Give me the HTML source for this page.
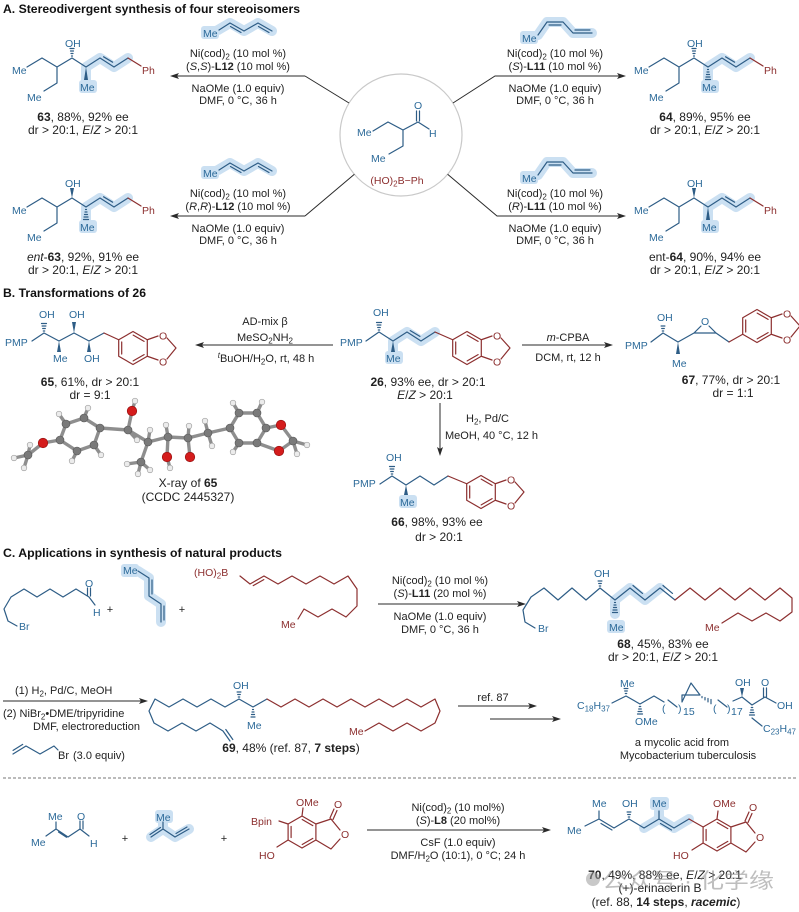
<!DOCTYPE html>
<html><head><meta charset="utf-8"><style>
body{margin:0;background:#fff}
svg{display:block}
text{font-family:"Liberation Sans",Arial,sans-serif;}
.t{font-size:11px;fill:#222}
.l{font-size:12px;fill:#222}
.a{font-size:10.5px;fill:#2c6a99}
.ar{font-size:10.5px;fill:#8c2f2f}
.h{font-size:12px;font-weight:bold;fill:#111}
.b{stroke:#2e5d86;stroke-width:1.2;fill:none;stroke-linecap:round;stroke-linejoin:round}
.r{stroke:#8c2f2f;stroke-width:1.2;fill:none;stroke-linecap:round;stroke-linejoin:round}
.k{stroke:#2a2a2a;stroke-width:1;fill:none}
.hl{stroke:#cbe0f2;stroke-width:10;fill:none;stroke-linecap:round;stroke-linejoin:round}
.fb{fill:#2e5d86}
.fk{fill:#2a2a2a}
.st{stroke:#8e8e8e;stroke-width:3.4;stroke-linecap:round;fill:none}
.cb{fill:#7a7a7a;stroke:#555;stroke-width:0.6}
.ob{fill:#d41c1c;stroke:#901010;stroke-width:0.6}
.hb{fill:#ececec;stroke:#9a9a9a;stroke-width:0.6}
</style></head><body>
<svg width="799" height="912" viewBox="0 0 799 912" xmlns="http://www.w3.org/2000/svg">
<rect width="799" height="912" fill="#fff"/>

<!-- ===== SECTION A ===== -->
<text class="h" x="3" y="13" textLength="297" lengthAdjust="spacingAndGlyphs">A. Stereodivergent synthesis of four stereoisomers</text>

<circle cx="401" cy="135" r="61" fill="none" stroke="#c9c9c9" stroke-width="1.2"/>
<text class="a" x="357" y="136">Me</text>
<path class="b" d="M373,131 L388,122 L403,130 L418,122 L429,129 M403,130 L403,146 L389,154 M416.5,121 L416.5,111 M419.5,121 L419.5,111"/>
<text class="a" x="414" y="109">O</text>
<text class="a" x="429" y="137">H</text>
<text class="a" x="371" y="162">Me</text>
<text class="ar" x="397" y="184" text-anchor="middle">(HO)<tspan dy="2.5" font-size="8">2</tspan><tspan dy="-2.5">B−Ph</tspan></text>

<!-- top-left reagents -->
<path class="hl" d="M210,33 L218,30 L230,23 L244,31 L258,23 L272,31"/>
<rect x="201" y="26" width="18" height="13" rx="3" fill="#cbe0f2"/>
<text class="a" x="203" y="37">Me</text>
<path class="b" d="M219,30 L230,23 L244,31 L258,23 L272,31 M230.5,26.5 L241,32.5 M258.5,26.5 L269,32.5"/>
<text class="t" x="238" y="57" text-anchor="middle">Ni(cod)<tspan dy="2.5" font-size="8">2</tspan><tspan dy="-2.5"> (10 mol %)</tspan></text>
<text class="t" x="238" y="70" text-anchor="middle">(<tspan font-style="italic">S</tspan>,<tspan font-style="italic">S</tspan>)-<tspan font-weight="bold">L12</tspan> (10 mol %)</text>
<path class="k" d="M305,76 L176,76 M305,76 L349,103"/>
<polygon class="fk" points="170,76 179,73 177,76 179,79"/>
<text class="t" x="238" y="92" text-anchor="middle">NaOMe (1.0 equiv)</text>
<text class="t" x="238" y="104" text-anchor="middle">DMF, 0 °C, 36 h</text>

<!-- top-right reagents -->
<path class="hl" d="M530,38 L538,35 L547,22 L563,22 L573,33 L592,33"/>
<rect x="520" y="31" width="18" height="13" rx="3" fill="#cbe0f2"/>
<text class="a" x="522" y="42">Me</text>
<path class="b" d="M538,35 L547,22 L563,22 L573,33 L592,33 M549,25 L561,25 M575,30 L590,30"/>
<text class="t" x="555" y="57" text-anchor="middle">Ni(cod)<tspan dy="2.5" font-size="8">2</tspan><tspan dy="-2.5"> (10 mol %)</tspan></text>
<text class="t" x="555" y="70" text-anchor="middle">(<tspan font-style="italic">S</tspan>)-<tspan font-weight="bold">L11</tspan> (10 mol %)</text>
<path class="k" d="M453,103 L495,76 L620,76"/>
<polygon class="fk" points="626,76 617,73 619,76 617,79"/>
<text class="t" x="555" y="92" text-anchor="middle">NaOMe (1.0 equiv)</text>
<text class="t" x="555" y="104" text-anchor="middle">DMF, 0 °C, 36 h</text>

<!-- bottom-left reagents -->
<path class="hl" d="M210,173 L218,170 L230,163 L244,171 L258,163 L272,171"/>
<rect x="201" y="166" width="18" height="13" rx="3" fill="#cbe0f2"/>
<text class="a" x="203" y="177">Me</text>
<path class="b" d="M219,170 L230,163 L244,171 L258,163 L272,171 M230.5,166.5 L241,172.5 M258.5,166.5 L269,172.5"/>
<text class="t" x="238" y="197" text-anchor="middle">Ni(cod)<tspan dy="2.5" font-size="8">2</tspan><tspan dy="-2.5"> (10 mol %)</tspan></text>
<text class="t" x="238" y="210" text-anchor="middle">(<tspan font-style="italic">R</tspan>,<tspan font-style="italic">R</tspan>)-<tspan font-weight="bold">L12</tspan> (10 mol %)</text>
<path class="k" d="M305,216 L176,216 M305,216 L354.4,174.3"/>
<polygon class="fk" points="170,216 179,213 177,216 179,219"/>
<text class="t" x="238" y="232" text-anchor="middle">NaOMe (1.0 equiv)</text>
<text class="t" x="238" y="244" text-anchor="middle">DMF, 0 °C, 36 h</text>

<!-- bottom-right reagents -->
<path class="hl" d="M530,178 L538,175 L547,162 L563,162 L573,173 L592,173"/>
<rect x="520" y="171" width="18" height="13" rx="3" fill="#cbe0f2"/>
<text class="a" x="522" y="182">Me</text>
<path class="b" d="M538,175 L547,162 L563,162 L573,173 L592,173 M549,165 L561,165 M575,170 L590,170"/>
<text class="t" x="555" y="197" text-anchor="middle">Ni(cod)<tspan dy="2.5" font-size="8">2</tspan><tspan dy="-2.5"> (10 mol %)</tspan></text>
<text class="t" x="555" y="210" text-anchor="middle">(<tspan font-style="italic">R</tspan>)-<tspan font-weight="bold">L11</tspan> (10 mol %)</text>
<path class="k" d="M447.6,174.3 L497,216 L620,216"/>
<polygon class="fk" points="626,216 617,213 619,216 617,219"/>
<text class="t" x="555" y="232" text-anchor="middle">NaOMe (1.0 equiv)</text>
<text class="t" x="555" y="244" text-anchor="middle">DMF, 0 °C, 36 h</text>

<!-- product 63 -->
<g>
<path class="hl" d="M86,86 L86,67 L100,58 L114,67 L128,58"/>
<rect x="79" y="80" width="18" height="13" rx="3" fill="#cbe0f2"/>
<path class="b" d="M27,67 L42,58 L57,67 L72,58 L86,67 L100,58 L114,67 L128,58 M57,67 L57,83 L44,91 M103.6,56.8 L112.6,62.2"/>
<path class="r" d="M128,58 L141,66"/>
<path class="b" d="M71.5,56 h1 M71,53.5 h2 M70.5,51 h3 M70,48.5 h4"/>
<polygon class="fb" points="86,67 84,80 88,80"/>
<text class="a" x="12" y="74">Me</text>
<text class="a" x="27" y="101">Me</text>
<text class="a" x="65" y="47">OH</text>
<text class="a" x="80" y="91">Me</text>
<text class="ar" x="142" y="74">Ph</text>
<text class="l" x="83" y="121" text-anchor="middle"><tspan font-weight="bold">63</tspan>, 88%, 92% ee</text>
<text class="l" x="83" y="134" text-anchor="middle">dr &gt; 20:1, <tspan font-style="italic">E</tspan>/<tspan font-style="italic">Z</tspan> &gt; 20:1</text>
</g>
<!-- product 64 -->
<g transform="translate(622,0)">
<path class="hl" d="M86,86 L86,67 L100,58 L114,67 L128,58"/>
<rect x="79" y="80" width="18" height="13" rx="3" fill="#cbe0f2"/>
<path class="b" d="M27,67 L42,58 L57,67 L72,58 L86,67 L100,58 L114,67 L128,58 M57,67 L57,83 L44,91 M103.6,56.8 L112.6,62.2"/>
<path class="r" d="M128,58 L141,66"/>
<path class="b" d="M71.5,56 h1 M71,53.5 h2 M70.5,51 h3 M70,48.5 h4"/>
<path class="b" d="M85.5,69.5 h1 M85,72 h2 M84.5,74.5 h3 M84,77 h4 M83.5,79.5 h5"/>
<text class="a" x="12" y="74">Me</text>
<text class="a" x="27" y="101">Me</text>
<text class="a" x="65" y="47">OH</text>
<text class="a" x="80" y="91">Me</text>
<text class="ar" x="142" y="74">Ph</text>
<text class="l" x="83" y="121" text-anchor="middle"><tspan font-weight="bold">64</tspan>, 89%, 95% ee</text>
<text class="l" x="83" y="134" text-anchor="middle">dr &gt; 20:1, <tspan font-style="italic">E</tspan>/<tspan font-style="italic">Z</tspan> &gt; 20:1</text>
</g>
<!-- ent-63 -->
<g transform="translate(0,140)">
<path class="hl" d="M86,86 L86,67 L100,58 L114,67 L128,58"/>
<rect x="79" y="80" width="18" height="13" rx="3" fill="#cbe0f2"/>
<path class="b" d="M27,67 L42,58 L57,67 L72,58 L86,67 L100,58 L114,67 L128,58 M57,67 L57,83 L44,91 M103.6,56.8 L112.6,62.2"/>
<path class="r" d="M128,58 L141,66"/>
<polygon class="fb" points="72,58 70,48 74,48"/>
<path class="b" d="M85.5,69.5 h1 M85,72 h2 M84.5,74.5 h3 M84,77 h4 M83.5,79.5 h5"/>
<text class="a" x="12" y="74">Me</text>
<text class="a" x="27" y="101">Me</text>
<text class="a" x="65" y="47">OH</text>
<text class="a" x="80" y="91">Me</text>
<text class="ar" x="142" y="74">Ph</text>
<text class="l" x="83" y="121" text-anchor="middle"><tspan font-style="italic">ent</tspan>-<tspan font-weight="bold">63</tspan>, 92%, 91% ee</text>
<text class="l" x="83" y="134" text-anchor="middle">dr &gt; 20:1, <tspan font-style="italic">E</tspan>/<tspan font-style="italic">Z</tspan> &gt; 20:1</text>
</g>
<!-- ent-64 -->
<g transform="translate(622,140)">
<path class="hl" d="M86,86 L86,67 L100,58 L114,67 L128,58"/>
<rect x="79" y="80" width="18" height="13" rx="3" fill="#cbe0f2"/>
<path class="b" d="M27,67 L42,58 L57,67 L72,58 L86,67 L100,58 L114,67 L128,58 M57,67 L57,83 L44,91 M103.6,56.8 L112.6,62.2"/>
<path class="r" d="M128,58 L141,66"/>
<polygon class="fb" points="72,58 70,48 74,48"/>
<polygon class="fb" points="86,67 84,80 88,80"/>
<text class="a" x="12" y="74">Me</text>
<text class="a" x="27" y="101">Me</text>
<text class="a" x="65" y="47">OH</text>
<text class="a" x="80" y="91">Me</text>
<text class="ar" x="142" y="74">Ph</text>
<text class="l" x="83" y="121" text-anchor="middle">ent-<tspan font-weight="bold">64</tspan>, 90%, 94% ee</text>
<text class="l" x="83" y="134" text-anchor="middle">dr &gt; 20:1, <tspan font-style="italic">E</tspan>/<tspan font-style="italic">Z</tspan> &gt; 20:1</text>
</g>

<!-- ===== SECTION B ===== -->
<text class="h" x="3" y="297" textLength="143" lengthAdjust="spacingAndGlyphs">B. Transformations of 26</text>

<!-- 65 -->
<text class="a" x="5" y="346">PMP</text>
<path class="b" d="M32,341 L44,333 L59,341 L74,333 L89,341 L104,333"/>
<path class="r" d="M104,333 L118.7,339.75"/>
<path class="b" d="M43.3,331 h1.4 M42.7,328.5 h2.6 M42.1,326 h3.8 M41.5,323.5 h5"/>
<text class="a" x="39" y="318">OH</text>
<polygon class="fb" points="59,341 57,352 61,352"/>
<text class="a" x="53" y="362">Me</text>
<polygon class="fb" points="74,333 72,322 76,322"/>
<text class="a" x="69" y="318">OH</text>
<polygon class="fb" points="89,341 87,352 91,352"/>
<text class="a" x="84" y="362">OH</text>
<g transform="translate(133,348)">
<path class="r" d="M0,-16.5 L14.3,-8.25 L14.3,8.25 L0,16.5 L-14.3,8.25 L-14.3,-8.25 Z M-11.3,-6 L-11.3,6 M0.2,-12.9 L11.1,-6.65 M11.1,6.65 L0.2,12.9 M14.3,-8.25 L25,-12 M14.3,8.25 L25,12 M34,-10 L43,0 L34,11"/>
<text class="ar" x="26" y="-8.5">O</text><text class="ar" x="26" y="17.5">O</text>
</g>
<text class="l" x="90" y="386" text-anchor="middle"><tspan font-weight="bold">65</tspan>, 61%, dr &gt; 20:1</text>
<text class="l" x="90" y="399" text-anchor="middle">dr = 9:1</text>

<text class="t" x="265" y="325" text-anchor="middle">AD-mix β</text>
<text class="t" x="265" y="341" text-anchor="middle">MeSO<tspan dy="2.5" font-size="8">2</tspan><tspan dy="-2.5">NH</tspan><tspan dy="2.5" font-size="8">2</tspan></text>
<path class="k" d="M333,345 L201,345"/>
<polygon class="fk" points="195,345 204,342 202,345 204,348"/>
<text class="t" x="266" y="362" text-anchor="middle"><tspan font-style="italic" font-size="8" dy="-4">t</tspan><tspan dy="4">BuOH/H</tspan><tspan dy="2.5" font-size="8">2</tspan><tspan dy="-2.5">O, rt, 48 h</tspan></text>

<!-- 26 -->
<text class="a" x="340" y="346">PMP</text>
<path class="hl" d="M393,357 L393,341 L407,332 L421,341 L435,332"/>
<rect x="385" y="351" width="18" height="13" rx="3" fill="#cbe0f2"/>
<path class="b" d="M366,341 L379,332 L393,341 L407,332 L421,341 L435,332 M410.3,330.6 L419.9,336.4"/>
<path class="r" d="M435,332 L452.7,339.75"/>
<path class="b" d="M378.3,330 h1.4 M377.7,327.5 h2.6 M377.1,325 h3.8 M376.5,322.5 h5"/>
<text class="a" x="373" y="316">OH</text>
<polygon class="fb" points="393,341 391,352 395,352"/>
<text class="a" x="386" y="362">Me</text>
<g transform="translate(467,348)">
<path class="r" d="M0,-16.5 L14.3,-8.25 L14.3,8.25 L0,16.5 L-14.3,8.25 L-14.3,-8.25 Z M-11.3,-6 L-11.3,6 M0.2,-12.9 L11.1,-6.65 M11.1,6.65 L0.2,12.9 M14.3,-8.25 L25,-12 M14.3,8.25 L25,12 M34,-10 L43,0 L34,11"/>
<text class="ar" x="26" y="-8.5">O</text><text class="ar" x="26" y="17.5">O</text>
</g>
<text class="l" x="428" y="386" text-anchor="middle"><tspan font-weight="bold">26</tspan>, 93% ee, dr &gt; 20:1</text>
<text class="l" x="425" y="399" text-anchor="middle"><tspan font-style="italic">E</tspan>/<tspan font-style="italic">Z</tspan> &gt; 20:1</text>

<text class="t" x="568" y="341" text-anchor="middle"><tspan font-style="italic">m</tspan>-CPBA</text>
<path class="k" d="M522,345 L607,345"/>
<polygon class="fk" points="613,345 604,342 606,345 604,348"/>
<text class="t" x="568" y="361" text-anchor="middle">DCM, rt, 12 h</text>

<!-- 67 -->
<text class="a" x="625" y="349">PMP</text>
<path class="b" d="M651,342 L663,333 L678,342 L694,333 L716,333 L729,342 M694,333 L701,326 M716,333 L709,326"/>
<path class="r" d="M729,342 L742.7,334.25"/>
<path class="b" d="M662.3,331 h1.4 M661.7,328.5 h2.6 M661.1,326 h3.8"/>
<text class="a" x="657" y="321">OH</text>
<text class="a" x="701" y="325">O</text>
<polygon class="fb" points="678,342 676,354 680,354"/>
<text class="a" x="672" y="367">Me</text>
<g transform="translate(757,326)">
<path class="r" d="M0,-16.5 L14.3,-8.25 L14.3,8.25 L0,16.5 L-14.3,8.25 L-14.3,-8.25 Z M-11.3,-6 L-11.3,6 M0.2,-12.9 L11.1,-6.65 M11.1,6.65 L0.2,12.9 M14.3,-8.25 L25,-12 M14.3,8.25 L25,12 M34,-10 L43,0 L34,11"/>
<text class="ar" x="26" y="-8.5">O</text><text class="ar" x="26" y="17.5">O</text>
</g>
<text class="l" x="731" y="384" text-anchor="middle"><tspan font-weight="bold">67</tspan>, 77%, dr &gt; 20:1</text>
<text class="l" x="733" y="397" text-anchor="middle">dr = 1:1</text>

<path class="k" d="M440,403 L440,450"/>
<polygon class="fk" points="440,456 437,447 440,449 443,447"/>
<text class="t" x="466" y="422">H<tspan dy="2.5" font-size="8">2</tspan><tspan dy="-2.5">, Pd/C</tspan></text>
<text class="t" x="445" y="439">MeOH, 40 °C, 12 h</text>

<!-- 66 -->
<text class="a" x="353" y="487">PMP</text>
<rect x="399" y="495" width="18" height="13" rx="3" fill="#cbe0f2"/>
<path class="b" d="M380,484 L392,476 L406,485 L420,476 L434,485 L448,476"/>
<path class="r" d="M448,476 L466.7,483.75"/>
<path class="b" d="M391.3,474 h1.4 M390.7,471.5 h2.6 M390.1,469 h3.8 M389.5,466.5 h5"/>
<text class="a" x="386" y="461">OH</text>
<polygon class="fb" points="406,485 404,495 408,495"/>
<text class="a" x="400" y="506">Me</text>
<g transform="translate(481,492)">
<path class="r" d="M0,-16.5 L14.3,-8.25 L14.3,8.25 L0,16.5 L-14.3,8.25 L-14.3,-8.25 Z M-11.3,-6 L-11.3,6 M0.2,-12.9 L11.1,-6.65 M11.1,6.65 L0.2,12.9 M14.3,-8.25 L25,-12 M14.3,8.25 L25,12 M34,-10 L43,0 L34,11"/>
<text class="ar" x="26" y="-8.5">O</text><text class="ar" x="26" y="17.5">O</text>
</g>
<text class="l" x="437" y="526" text-anchor="middle"><tspan font-weight="bold">66</tspan>, 98%, 93% ee</text>
<text class="l" x="439" y="541" text-anchor="middle">dr &gt; 20:1</text>

<!-- X-ray -->
<g>
<path class="st" d="M28,455 L43,443 L60,440 M60,440 L66,424 L84,418 L100,428 L94,445 L77,451 Z M100,428 L128,430 L132,411 L135,401 M128,430 L148,442 L141,462 M148,442 L168,437 L167,457 L170,468 M168,437 L188,438 L190,457 M188,438 L208,433 L230,428 M230,428 L239,413 L257,413 L266,428 L257,443 L239,443 Z M266,428 L281,425 L293,441 L279,451 L257,443 M293,441 L307,445 M293,441 L297,454 M28,455 L14,458 M28,455 L24,468 M28,455 L30,445 M66,424 L59,414 M84,418 L88,408 M94,445 L101,455 M77,451 L72,461 M128,430 L137,440 M148,442 L150,430 M141,462 L127,464 M141,462 L138,474 M141,462 L150,470 M168,437 L166,425 M188,438 L189,426 M208,433 L205,421 M208,433 L212,446 M239,413 L233,403 M257,413 L262,402 M239,443 L233,452"/>
<g class="hb">
<circle cx="14" cy="458" r="2.8"/><circle cx="24" cy="468" r="2.8"/><circle cx="30" cy="445" r="2.8"/>
<circle cx="59" cy="414" r="2.8"/><circle cx="88" cy="408" r="2.8"/><circle cx="101" cy="455" r="2.8"/><circle cx="72" cy="461" r="2.8"/>
<circle cx="135" cy="401" r="2.8"/><circle cx="137" cy="440" r="2.8"/><circle cx="150" cy="430" r="2.8"/>
<circle cx="127" cy="464" r="2.8"/><circle cx="138" cy="474" r="2.8"/><circle cx="150" cy="470" r="2.8"/>
<circle cx="170" cy="468" r="2.8"/><circle cx="166" cy="425" r="2.8"/><circle cx="189" cy="426" r="2.8"/>
<circle cx="205" cy="421" r="2.8"/><circle cx="212" cy="446" r="2.8"/>
<circle cx="233" cy="403" r="2.8"/><circle cx="262" cy="402" r="2.8"/><circle cx="233" cy="452" r="2.8"/>
<circle cx="307" cy="445" r="2.8"/><circle cx="297" cy="454" r="2.8"/>
</g>
<g class="cb">
<circle cx="28" cy="455" r="4"/><circle cx="60" cy="440" r="4"/><circle cx="66" cy="424" r="4"/><circle cx="84" cy="418" r="4"/><circle cx="100" cy="428" r="4"/><circle cx="94" cy="445" r="4"/><circle cx="77" cy="451" r="4"/>
<circle cx="128" cy="430" r="4"/><circle cx="148" cy="442" r="4"/><circle cx="141" cy="462" r="4"/><circle cx="168" cy="437" r="4"/><circle cx="188" cy="438" r="4"/><circle cx="208" cy="433" r="4"/>
<circle cx="230" cy="428" r="4"/><circle cx="239" cy="413" r="4"/><circle cx="257" cy="413" r="4"/><circle cx="266" cy="428" r="4"/><circle cx="257" cy="443" r="4"/><circle cx="239" cy="443" r="4"/><circle cx="293" cy="441" r="4"/>
</g>
<g class="ob">
<circle cx="43" cy="443" r="4.8"/><circle cx="132" cy="411" r="4.8"/><circle cx="167" cy="457" r="4.8"/><circle cx="190" cy="457" r="4.8"/><circle cx="281" cy="425" r="4.8"/><circle cx="279" cy="451" r="4.8"/>
</g>
</g>
<text class="l" x="188" y="487" text-anchor="middle">X-ray of <tspan font-weight="bold">65</tspan></text>
<text class="l" x="188" y="501" text-anchor="middle">(CCDC 2445327)</text>

<!-- ===== SECTION C ===== -->
<text class="h" x="3" y="557" textLength="279" lengthAdjust="spacingAndGlyphs">C. Applications in synthesis of natural products</text>

<path class="b" d="M89,597 L76,589 L63,597 L50,589 L37,597 L24,589 L11,597 L4,609 L8,621 L17,626 M87.5,596 L87.5,588 M90.5,596 L90.5,588 M89,597 L95,605"/>
<text class="a" x="85" y="587">O</text>
<text class="a" x="93" y="616">H</text>
<text class="a" x="19" y="630">Br</text>
<text class="t" x="110" y="613" text-anchor="middle" font-size="13">+</text>
<path class="hl" d="M130,570 L138,571 L149,578 L149,596 L161,604 L161,622"/>
<rect x="121" y="564" width="18" height="13" rx="3" fill="#cbe0f2"/>
<text class="a" x="123" y="574">Me</text>
<path class="b" d="M138,571 L149,578 L149,596 L161,604 L161,622 M152,580 L152,594 M164,606 L164,620"/>
<text class="t" x="182" y="613" text-anchor="middle" font-size="13">+</text>
<text class="ar" x="194" y="576">(HO)<tspan dy="2.5" font-size="8">2</tspan><tspan dy="-2.5">B</tspan></text>
<path class="r" d="M240,576 L250,584 L264,576 L278,584 L292,576 L306,584 L320,576 L334,584 L348,576 L357,589 L357,606 L346,617 L332,609 L318,617 L304,609 L298,619 M253.2,585.6 L263.8,579.6"/>
<text class="ar" x="281" y="628">Me</text>
<text class="t" x="440" y="584" text-anchor="middle">Ni(cod)<tspan dy="2.5" font-size="8">2</tspan><tspan dy="-2.5"> (10 mol %)</tspan></text>
<text class="t" x="440" y="597" text-anchor="middle">(<tspan font-style="italic">S</tspan>)-<tspan font-weight="bold">L11</tspan> (20 mol %)</text>
<path class="k" d="M378,604 L520,604"/>
<polygon class="fk" points="526,604 517,601 519,604 517,607"/>
<text class="t" x="440" y="620" text-anchor="middle">NaOMe (1.0 equiv)</text>
<text class="t" x="440" y="633" text-anchor="middle">DMF, 0 °C, 36 h</text>
<!-- 68 -->
<path class="hl" d="M615,614 L615,600 L630,588 L645,600 L660,588"/>
<rect x="607" y="620" width="18" height="13" rx="3" fill="#cbe0f2"/>
<path class="b" d="M600,588 L586,600 L572,588 L558,600 L544,588 L531,597 L523,610 L525,622 L535,628 M600,588 L615,600 L630,588 L645,600 L660,588 L675,600 M633,585.5 L642.5,593.4 M663,585.5 L672.5,593.4"/>
<path class="r" d="M675,600 L690,588 L705,600 L720,588 L735,600 L750,588 L765,600 L780,588 L792,598 L792,612 L780,621 L766,613 L752,621 L738,613 L722,623"/>
<path class="b" d="M599.3,586 h1.4 M598.7,583.5 h2.6 M598.1,581 h3.8"/>
<text class="a" x="594" y="577">OH</text>
<path class="b" d="M614.5,602.5 h1 M614,605 h2 M613.5,607.5 h3 M613,610 h4 M612.5,612.5 h5"/>
<text class="a" x="609" y="631">Me</text>
<text class="a" x="538" y="632">Br</text>
<text class="ar" x="705" y="631">Me</text>
<text class="l" x="663" y="648" text-anchor="middle"><tspan font-weight="bold">68</tspan>, 45%, 83% ee</text>
<text class="l" x="663" y="661" text-anchor="middle">dr &gt; 20:1, <tspan font-style="italic">E</tspan>/<tspan font-style="italic">Z</tspan> &gt; 20:1</text>

<!-- row 2 -->
<text class="t" x="15" y="694">(1) H<tspan dy="2.5" font-size="8">2</tspan><tspan dy="-2.5">, Pd/C, MeOH</tspan></text>
<path class="k" d="M3,701 L142,701"/>
<polygon class="fk" points="148,701 139,698 141,701 139,704"/>
<text class="t" x="3" y="717" font-size="10.5">(2) NiBr<tspan dy="2.5" font-size="8">2</tspan><tspan dy="-2.5">•DME/tripyridine</tspan></text>
<text class="t" x="33" y="730">DMF, electroreduction</text>
<path class="b" d="M13,754 L26,746 L40,754 L54,746 L58,750 M13.1,750.4 L22.7,744.4"/>
<text class="t" x="58" y="759">Br</text>
<text class="t" x="73" y="759">(3.0 equiv)</text>
<!-- 69 -->
<path class="b" d="M239,699 L225,707 L211,699 L197,707 L183,699 L169,707 L155,699 L149,711 L154,723 L168,731 L182,723 L196,731 L210,723 L223,731 L230,741 M225.8,729.5 L232.8,739.5 M239,699 L253,707 L267,699"/>
<path class="r" d="M267,699 L281,707 L295,699 L309,707 L323,699 L337,707 L351,699 L365,707 L379,699 L393,707 L407,699 L421,707 L435,699 L440,711 L435,723 L421,731 L407,723 L393,731 L379,723 L365,731"/>
<path class="b" d="M238.3,697 h1.4 M237.7,694.5 h2.6 M237.1,692 h3.8"/>
<text class="a" x="233" y="689">OH</text>
<path class="b" d="M252.5,709.5 h1 M252,712 h2 M251.5,714.5 h3 M251,717 h4"/>
<text class="a" x="247" y="729">Me</text>
<text class="ar" x="349" y="735">Me</text>
<text class="l" x="291" y="752" text-anchor="middle"><tspan font-weight="bold">69</tspan>, 48% (ref. 87, <tspan font-weight="bold">7 steps</tspan>)</text>
<text class="t" x="493" y="701" text-anchor="middle">ref. 87</text>
<path class="k" d="M458,706 L531,706 M490,719 L555,719"/>
<polygon class="fk" points="537,706 528,703 530,706 528,709"/>
<polygon class="fk" points="561,719 552,716 554,719 552,722"/>
<!-- mycolic acid -->
<text class="a" x="577" y="709">C<tspan dy="2.5" font-size="8">18</tspan><tspan dy="-2.5">H</tspan><tspan dy="2.5" font-size="8">37</tspan></text>
<path class="b" d="M612,703 L626,696 L640,704 L654,696 L664,702 M668,700 L677,707 M682,702 L682,695 L700,695 L691,683 Z M718,700 L727,707 M733,701 L742,697 L752,705 L765,697 L776,703 M752,718 L762,726 M763.5,697 L763.5,688 M766.5,697 L766.5,688"/>
<path class="b" d="M625.3,693.5 h1.4 M624.7,691 h2.6 M624.1,688.5 h3.8"/>
<path class="b" d="M639.3,706.5 h1.4 M638.7,709 h2.6 M638.1,711.5 h3.8 M637.5,714 h5"/>
<path class="b" d="M702,696.5 l0,1.2 M705,697.5 l0,2.4 M708,698.5 l0,3.4 M711,699.5 l0,4.2"/>
<path class="b" d="M751.3,707.5 h1.4 M750.7,710 h2.6 M750.1,712.5 h3.8 M749.5,715 h5"/>
<polygon class="fb" points="742,697 740,688 744,688"/>
<text class="a" x="662" y="712" font-size="12">(</text><text class="a" x="678" y="712" font-size="12">)</text><text class="a" x="683" y="715" font-size="8">15</text>
<text class="a" x="713" y="712" font-size="12">(</text><text class="a" x="727" y="712" font-size="12">)</text><text class="a" x="731" y="715" font-size="8">17</text>
<text class="a" x="620" y="687">Me</text>
<text class="a" x="635" y="725">OMe</text>
<text class="a" x="735" y="686">OH</text>
<text class="a" x="761" y="686">O</text>
<text class="a" x="777" y="709">OH</text>
<text class="a" x="763" y="732">C<tspan dy="2.5" font-size="8">23</tspan><tspan dy="-2.5">H</tspan><tspan dy="2.5" font-size="8">47</tspan></text>
<text class="t" x="682" y="746" text-anchor="middle">a mycolic acid from</text>
<text class="t" x="688" y="759" text-anchor="middle">Mycobacterium tuberculosis</text>

<line x1="3" y1="778" x2="797" y2="778" stroke="#777" stroke-width="1" stroke-dasharray="3,2"/>

<!-- row 3 -->
<path class="b" d="M56,822 L56,829 L68,837 L80,829 L80,821 M83,829 L83,821 M80,829 L89,836 M56,829 L46,836 M58.5,832 L66.5,837.2"/>
<text class="a" x="48" y="820">Me</text>
<text class="a" x="31" y="846">Me</text>
<text class="a" x="77" y="820">O</text>
<text class="a" x="90" y="847">H</text>
<text class="t" x="125" y="842" text-anchor="middle" font-size="13">+</text>
<path class="hl" d="M163,818 L163,829 L151,837 M163,829 L175,837 L189,829"/>
<rect x="155" y="810" width="18" height="13" rx="3" fill="#cbe0f2"/>
<text class="a" x="156" y="821">Me</text>
<path class="b" d="M163,822 L163,829 L151,837 M163,829 L175,837 L189,829 M160.5,827.5 L150,834.5 M176,833.5 L187,827"/>
<text class="t" x="224" y="842" text-anchor="middle" font-size="13">+</text>
<g transform="translate(302,832)">
<path class="r" d="M0,-16 L13.9,-8 L13.9,8 L0,16 L-13.9,8 L-13.9,-8 Z M-10.9,-5.5 L-10.9,5.5 M0.2,-12.5 L10.8,-6.4 M10.8,6.4 L0.2,12.5 M13.9,-8 L29,-13 L38,-2 M38,7 L29,17 L13.9,8 M28,-14 L32,-23 M31,-12.5 L35,-21.5 M0,-16 L1,-24 M-13.9,-8 L-23,-11 M-13.9,8 L-25,15"/>
<text class="ar" x="32" y="-24">O</text>
<text class="ar" x="39" y="6">O</text>
<text class="ar" x="-6" y="-26">OMe</text>
<text class="ar" x="-51" y="-7">Bpin</text>
<text class="ar" x="-43" y="27">HO</text>
</g>
<text class="t" x="458" y="811" text-anchor="middle">Ni(cod)<tspan dy="2.5" font-size="8">2</tspan><tspan dy="-2.5"> (10 mol%)</tspan></text>
<text class="t" x="458" y="824" text-anchor="middle">(<tspan font-style="italic">S</tspan>)-<tspan font-weight="bold">L8</tspan> (20 mol%)</text>
<path class="k" d="M367,830 L545,830"/>
<polygon class="fk" points="551,830 542,827 544,830 542,833"/>
<text class="t" x="458" y="846" text-anchor="middle">CsF (1.0 equiv)</text>
<text class="t" x="458" y="859" text-anchor="middle">DMF/H<tspan dy="2.5" font-size="8">2</tspan><tspan dy="-2.5">O (10:1), 0 °C; 24 h</tspan></text>
<!-- 70 -->
<path class="hl" d="M659,811 L659,819 L674,828 L689,819 M644,828 L659,819"/>
<rect x="650" y="797" width="19" height="13" rx="3" fill="#cbe0f2"/>
<path class="b" d="M585,826 L599,819 L599,811 M599,819 L614,828 L629,819 L644,828 L659,819 L659,811 M659,819 L674,828 L689,819 M601,823.5 L612,830 M660.5,823.5 L671.5,830"/>
<path class="r" d="M689,819 L703.1,827"/>
<path class="b" d="M628.3,817 h1.4 M627.7,814.5 h2.6 M627.1,812 h3.8"/>
<text class="a" x="592" y="807">Me</text>
<text class="a" x="567" y="834">Me</text>
<text class="a" x="622" y="807">OH</text>
<text class="a" x="652" y="807">Me</text>
<g transform="translate(717,835)">
<path class="r" d="M0,-16 L13.9,-8 L13.9,8 L0,16 L-13.9,8 L-13.9,-8 Z M-10.9,-5.5 L-10.9,5.5 M0.2,-12.5 L10.8,-6.4 M10.8,6.4 L0.2,12.5 M13.9,-8 L29,-13 L38,-2 M38,7 L29,17 L13.9,8 M28,-14 L32,-23 M31,-12.5 L35,-21.5 M0,-16 L1,-24 M-13.9,8 L-25,15"/>
<text class="ar" x="32" y="-24">O</text>
<text class="ar" x="39" y="6">O</text>
<text class="ar" x="-4" y="-28">OMe</text>
<text class="ar" x="-44" y="24">HO</text>
</g>
<text class="l" x="665" y="879" text-anchor="middle"><tspan font-weight="bold">70</tspan>, 49%, 88% ee, <tspan font-style="italic">E</tspan>/<tspan font-style="italic">Z</tspan> &gt; 20:1</text>
<text class="l" x="660" y="892" text-anchor="middle">(+)-erinacerin B</text>
<text class="l" x="666" y="906" text-anchor="middle">(ref. 88, <tspan font-weight="bold">14 steps</tspan>, <tspan font-weight="bold" font-style="italic">racemic</tspan>)</text>
<circle cx="593" cy="879" r="7" fill="#9a9a9a" opacity="0.55"/>
<text x="602" y="888" font-size="21" fill="#8a8a8a" opacity="0.55" textLength="172" lengthAdjust="spacingAndGlyphs" style="font-family:'Liberation Sans','Noto Sans CJK SC',sans-serif">公众号 · 化学缘</text>
</svg>
</body></html>
